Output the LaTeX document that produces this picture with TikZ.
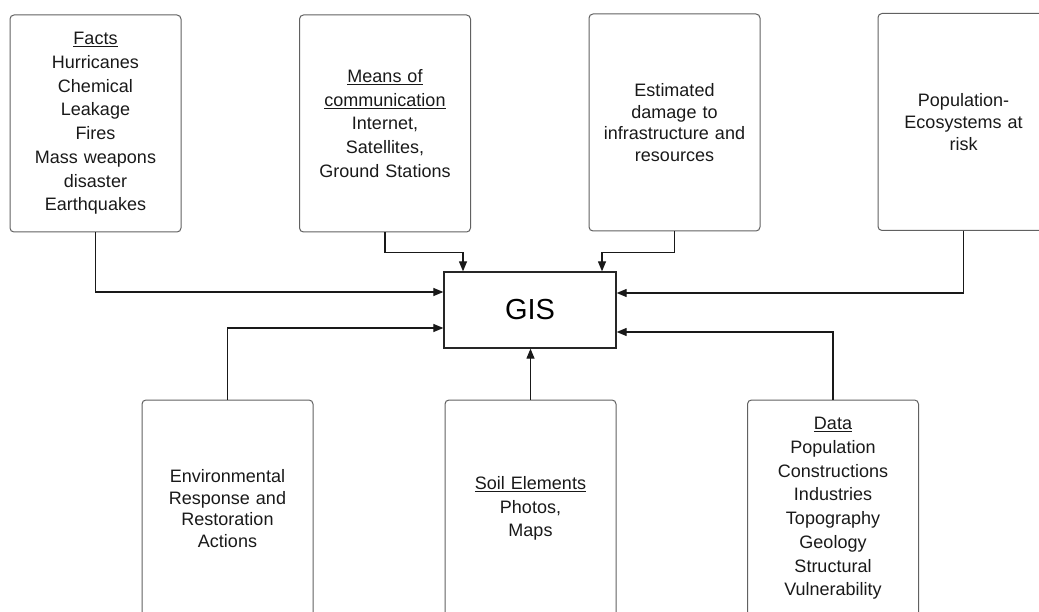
\documentclass[tikz,border=0pt]{standalone}
\usepackage{fontspec}
\setmainfont{Liberation Sans}
\usetikzlibrary{arrows.meta}
\begin{document}
\begin{tikzpicture}[x=1pt,y=-1pt,
  card/.style={draw=black!62, line width=1pt, rounded corners=4pt,
    minimum width=171pt, minimum height=217pt, inner sep=0pt,
    align=center, text width=165pt, text=black!90,
    font=\fontsize{18}{21.6}\selectfont},
  listcard/.style={card, font=\fontsize{18}{23.7}\selectfont},
  hub/.style={draw=black!85, line width=1.3pt, minimum width=172pt,
    minimum height=76pt, inner sep=0pt, font=\fontsize{29}{34}\selectfont},
  flow/.style={draw=black!90, line width=1.2pt,
    -{Triangle[length=10pt,width=8pt]}},
]
\useasboundingbox (0,0) rectangle (1039,612);

% central system
\node[hub] (gis) at (530,310) {GIS};

% inputs above
\node[listcard] (facts) at (95.5,123.5)
  {\underline{Facts}\\Hurricanes\\Chemical\\Leakage\\Fires\\Mass weapons\\disaster\\Earthquakes};
\node[listcard] (means) at (385,123.5)
  {\underline{Means of}\\\underline{communication}\\Internet,\\Satellites,\\Ground Stations};
\node[card] (est) at (674.5,122.5)
  {Estimated\\damage to\\infrastructure and\\resources};
\node[card] (pop) at (963.5,122)
  {Population-\\Ecosystems at\\risk};

% inputs below
\node[card] (env) at (227.5,508.5)
  {Environmental\\Response and\\Restoration\\Actions};
\node[listcard] (soil) at (530.5,508.5)
  {\underline{Soil Elements}\\Photos,\\Maps};
\node[listcard] (data) at (833,508.5)
  {\underline{Data}\\Population\\Constructions\\Industries\\Topography\\Geology\\Structural\\Vulnerability};

% connectors into GIS
\draw[flow] (facts.south) |- ([yshift=18pt]gis.west);
\draw[flow] (means.south) -- ++(0,20) -| ([xshift=-67pt]gis.north);
\draw[flow] (est.south) -- ++(0,21) -| ([xshift=72pt]gis.north);
\draw[flow] (pop.south) |- ([yshift=17pt]gis.east);
\draw[flow] (env.north) |- ([yshift=-18pt]gis.west);
\draw[flow] (soil.north) -- (soil.north |- gis.south);
\draw[flow] (data.north) |- ([yshift=-22pt]gis.east);
\end{tikzpicture}
\end{document}
